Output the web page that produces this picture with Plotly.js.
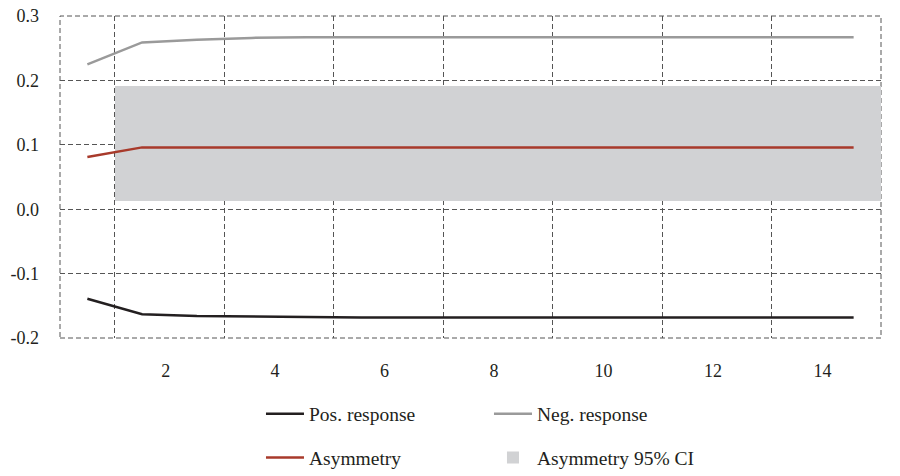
<!DOCTYPE html>
<html>
<head>
<meta charset="utf-8">
<script src="https://cdn.plot.ly/plotly-3.0.1.min.js"></script>
<style>
  html, body { margin: 0; padding: 0; background: #fff; }
  #chart { width: 900px; height: 476px; }
</style>
</head>
<body>
<div id="chart"></div>
<script>
// horizons 1..15
var periods = [1, 2, 3, 4, 5, 6, 7, 8, 9, 10, 11, 12, 13, 14, 15];

var posResponse = [-0.139, -0.163, -0.166, -0.167, -0.168, -0.168, -0.168, -0.168,
                   -0.168, -0.168, -0.168, -0.168, -0.168, -0.168, -0.168];
var negResponse = [0.225, 0.259, 0.263, 0.266, 0.267, 0.267, 0.267, 0.267,
                   0.267, 0.267, 0.267, 0.267, 0.267, 0.267, 0.267];
var asymmetry   = [0.081, 0.096, 0.096, 0.096, 0.096, 0.096, 0.096, 0.096,
                   0.096, 0.096, 0.096, 0.096, 0.096, 0.096, 0.096];

// 95% CI of the asymmetry, shown from horizon 2 on
var ciPeriods = [2, 3, 4, 5, 6, 7, 8, 9, 10, 11, 12, 13, 14, 15];
var ciLower = [0.013, 0.013, 0.013, 0.013, 0.013, 0.013, 0.013,
               0.013, 0.013, 0.013, 0.013, 0.013, 0.013, 0.013];
var ciUpper = [0.192, 0.192, 0.192, 0.192, 0.192, 0.192, 0.192,
               0.192, 0.192, 0.192, 0.192, 0.192, 0.192, 0.192];

var xTickLabels = [2, 4, 6, 8, 10, 12, 14];
var yTickVals = [-0.2, -0.1, 0.0, 0.1, 0.2, 0.3];

var labelShift = 0.43;   // labels sit a bit right of the category
var font = '"Times New Roman", "Liberation Serif", "DejaVu Serif", serif';
var gridColor = '#555555';
var dash = '5px,3px';

var data = [
    {
        x: ciPeriods,
        base: ciLower,
        y: ciUpper.map(function (u, i) { return u - ciLower[i]; }),
        type: 'bar',
        width: 1,
        name: 'Asymmetry 95% CI',
        marker: { color: '#d1d2d4', line: { width: 0 } },
        legend: 'legend2',
        legendrank: 2,
        hoverinfo: 'skip'
    },
    {
        x: periods,
        y: posResponse,
        mode: 'lines',
        type: 'scatter',
        name: 'Pos. response',
        line: { color: '#231f20', width: 2.5 },
        legend: 'legend',
        legendrank: 1
    },
    {
        x: periods,
        y: negResponse,
        mode: 'lines',
        type: 'scatter',
        name: 'Neg. response',
        line: { color: '#9a9a9a', width: 2.5 },
        legend: 'legend',
        legendrank: 2
    },
    {
        x: periods,
        y: asymmetry,
        mode: 'lines',
        type: 'scatter',
        name: 'Asymmetry',
        line: { color: '#a83a2b', width: 2.5 },
        legend: 'legend2',
        legendrank: 1
    }
];

var gridVals = [1.5, 3.5, 5.5, 7.5, 9.5, 11.5, 13.5];

var legendBase = {
    orientation: 'h',
    x: 0.2448,
    xanchor: 'left',
    yanchor: 'middle',
    itemwidth: 38,
    entrywidth: 175,
    bgcolor: 'rgba(0,0,0,0)',
    font: { family: font, size: 19.5, color: '#231f20' }
};

var layout = {
    width: 900,
    height: 476,
    margin: { l: 60, r: 19, t: 16, b: 138, autoexpand: false },
    paper_bgcolor: '#ffffff',
    plot_bgcolor: '#ffffff',
    font: { family: font, size: 18, color: '#231f20' },
    bargap: 0,
    showlegend: true,
    xaxis: {
        range: [0.5, 15.5],
        tickmode: 'array',
        tickvals: xTickLabels.map(function (v) { return v + labelShift; }),
        ticktext: xTickLabels.map(String),
        tickfont: { family: font, size: 18, color: '#231f20' },
        showgrid: false,
        zeroline: false,
        showline: false,
        ticks: '',
        ticklabelstandoff: 20,
        minor: {
            tickmode: 'array',
            tickvals: gridVals,
            showgrid: true,
            gridcolor: gridColor,
            gridwidth: 1,
            griddash: dash,
            ticks: ''
        }
    },
    yaxis: {
        range: [-0.2, 0.3],
        tickmode: 'array',
        tickvals: yTickVals,
        ticktext: yTickVals.map(function (v) { return v.toFixed(1); }),
        tickfont: { family: font, size: 18, color: '#231f20' },
        showgrid: true,
        gridcolor: gridColor,
        gridwidth: 1,
        griddash: dash,
        zeroline: false,
        showline: false,
        ticks: '',
        ticklabelstandoff: 20
    },
    // dashed frame round the plot area
    shapes: [{
        type: 'rect',
        xref: 'paper', yref: 'paper',
        x0: 0, x1: 1, y0: 0, y1: 1,
        line: { color: gridColor, width: 1, dash: dash },
        layer: 'below'
    }],
    legend: Object.assign({}, legendBase, { y: -0.236 }),
    legend2: Object.assign({}, legendBase, { y: -0.372 })
};

Plotly.newPlot('chart', data, layout, { displayModeBar: false, responsive: false });
</script>
</body>
</html>
